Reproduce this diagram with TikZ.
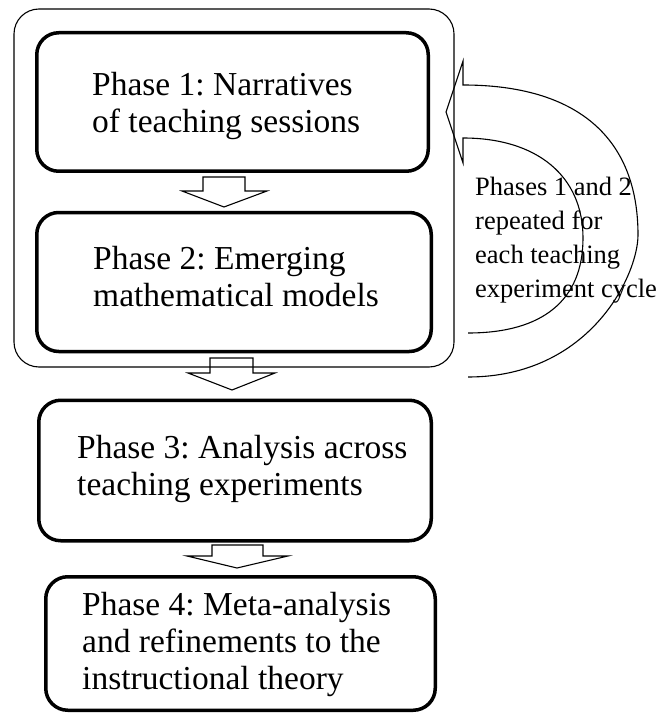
\documentclass[tikz,border=0pt]{standalone}
\usepackage{fontspec}
\setmainfont{Liberation Serif}
\frenchspacing
\begin{document}
\begin{tikzpicture}[x=1pt,y=-1pt,
  phasebox/.style={draw, line width=3.5pt, rounded corners=22pt, inner sep=0pt},
  phasetext/.style={anchor=base west, align=left, inner sep=0pt,
    font=\fontsize{33.5}{37}\selectfont},
  thinline/.style={line width=1.1pt},
  blk/.style={draw, line width=1.1pt, line join=miter},
  notetext/.style={anchor=base west, align=left, inner sep=0pt, font=\fontsize{26.5}{34}\selectfont}
]
\useasboundingbox (0,0) rectangle (658,714);
% outer group box
\node[draw, thinline, rounded corners=25pt, minimum width=440pt, minimum height=358pt, inner sep=0pt] (grp) at (234,188) {};
% phase boxes
\node[phasebox, minimum width=391.5pt, minimum height=138.5pt] (p1) at (232.5,102) {};
\node[phasebox, minimum width=394.5pt, minimum height=139pt] (p2) at (234,282) {};
\node[phasebox, minimum width=392.5pt, minimum height=140.5pt] (p3) at (235,470.5) {};
\node[phasebox, minimum width=389.5pt, minimum height=133.5pt] (p4) at (240.5,643.5) {};
% phase texts (anchor = baseline of last line)
\node[phasetext] (t1) at (92,133) {Phase 1: Narratives\\of teaching sessions};
\node[phasetext] (t2) at (93,306) {Phase 2: Emerging\\mathematical models};
\node[phasetext] (t3) at (77,495) {Phase 3: Analysis across\\teaching experiments};
\node[phasetext] (t4) at (82,689) {Phase 4: Meta-analysis\\and refinements to the\\instructional theory};
% block arrows
\draw[blk] (203,177) -- (245,177) -- (245,191) -- (267,191) -- (224,207) -- (182,191) -- (203,191) -- cycle;
\draw[blk] (210,358) -- (253,358) -- (253,373) -- (275,373) -- (232,390) -- (188,373) -- (210,373) -- cycle;
\draw[blk] (212,545) -- (263,545) -- (263,556) -- (288,556) -- (237,568) -- (187,556) -- (212,556) -- cycle;
% curved return arrow
\coordinate (tip) at (446,112);
\draw[thinline, line join=miter]
  (468,377) .. controls (590,377) and (638,275) .. (638,235)
  .. controls (638,137.5) and (577,85) .. (463,85)
  -- (463,61) -- (tip) -- (463,163) -- (463,138)
  .. controls (537,138) and (583,176) .. (583,238)
  .. controls (583,300) and (543,333) .. (468,333);
% note
\node[notetext] (note) at (475,297) {Phases 1 and 2\\repeated for\\each teaching\\experiment cycle};
\end{tikzpicture}
\end{document}
